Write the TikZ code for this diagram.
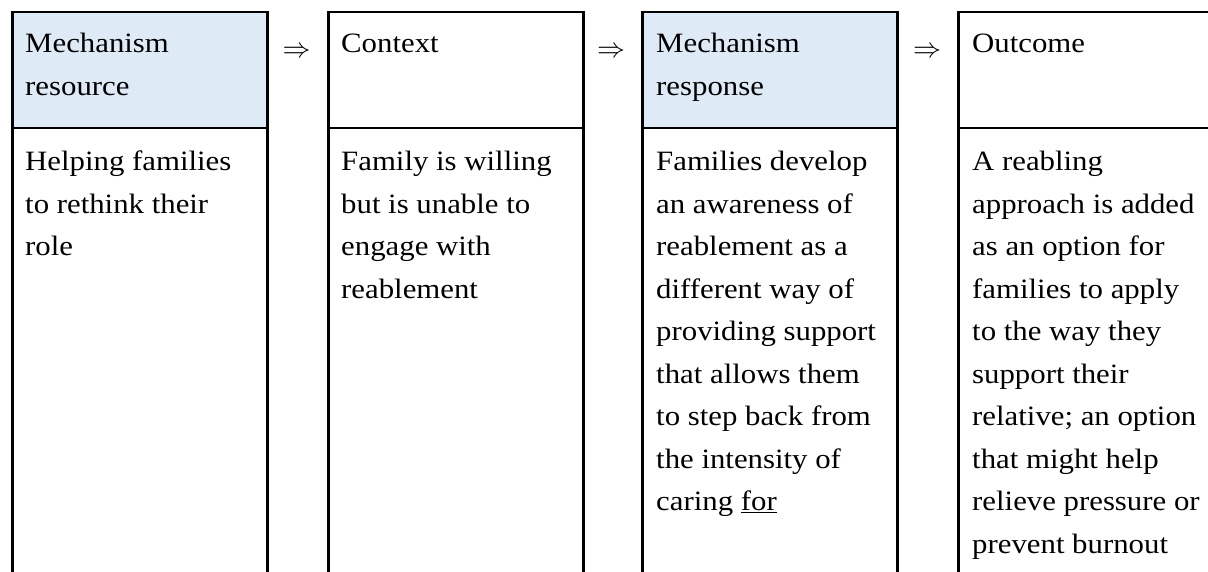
\documentclass[tikz,border=0pt]{standalone}
\usepackage{graphicx}
\usepackage{fontspec}
\setmainfont{Liberation Serif}[FakeStretch=1.1]
\definecolor{headblue}{HTML}{DEEAF6}
\newcommand\linesof[1]{\begin{tabular}[t]{@{}l@{}}#1\end{tabular}}
\newcommand\implies{\resizebox{28pt}{!}{$\Rightarrow$}}
\tikzset{
  x=1pt, y=-1pt,
  frame/.style={draw=black, line width=2.5pt, anchor=north west, inner sep=0pt,
    minimum width=255pt},
  headbox/.style={frame, fill=headblue, minimum height=116pt},
  bodybox/.style={frame, fill=white, minimum height=470pt},
  txt/.style={anchor=base west, inner sep=0pt, text=black,
    font=\fontsize{28}{42.5}\selectfont},
  flow/.style={inner sep=0pt}
}
\begin{document}
\begin{tikzpicture}
\useasboundingbox (0,0) rectangle (1208,572);
\clip (0,0) rectangle (1208,572);
% column frames: header cell above, body cell below
\foreach \n/\xx/\hf in {1/11/headblue, 2/327/white, 3/641/headblue, 4/957/white}{
  \node[headbox, fill=\hf] (h\n) at (\xx,11) {};
  \node[bodybox] (b\n) at (\xx,127) {};
}
% header texts
\node[txt] (ht1) at (25,53) {\linesof{Mechanism\\resource}};
\node[txt] (ht2) at (341,53) {\linesof{Context}};
\node[txt] (ht3) at (656,53) {\linesof{Mechanism\\response}};
\node[txt] (ht4) at (972,53) {\linesof{Outcome}};
% body texts
\node[txt] (bt1) at (25,171) {\linesof{Helping families\\to rethink their\\role}};
\node[txt] (bt2) at (341,171) {\linesof{Family is willing\\but is unable to\\engage with\\reablement}};
\node[txt] (bt3) at (656,171) {\linesof{Families develop\\an awareness of\\reablement as a\\different way of\\providing support\\that allows them\\to step back from\\the intensity of\\caring \underline{for}}};
\node[txt] (bt4) at (972,171) {\linesof{A reabling\\approach is added\\as an option for\\families to apply\\to the way they\\support their\\relative; an option\\that might help\\relieve pressure or\\prevent burnout}};
% implication arrows between the columns
\node[flow] (a1) at (296.5,52) {\implies};
\node[flow] (a2) at (611,52) {\implies};
\node[flow] (a3) at (927,52) {\implies};
\end{tikzpicture}
\end{document}
